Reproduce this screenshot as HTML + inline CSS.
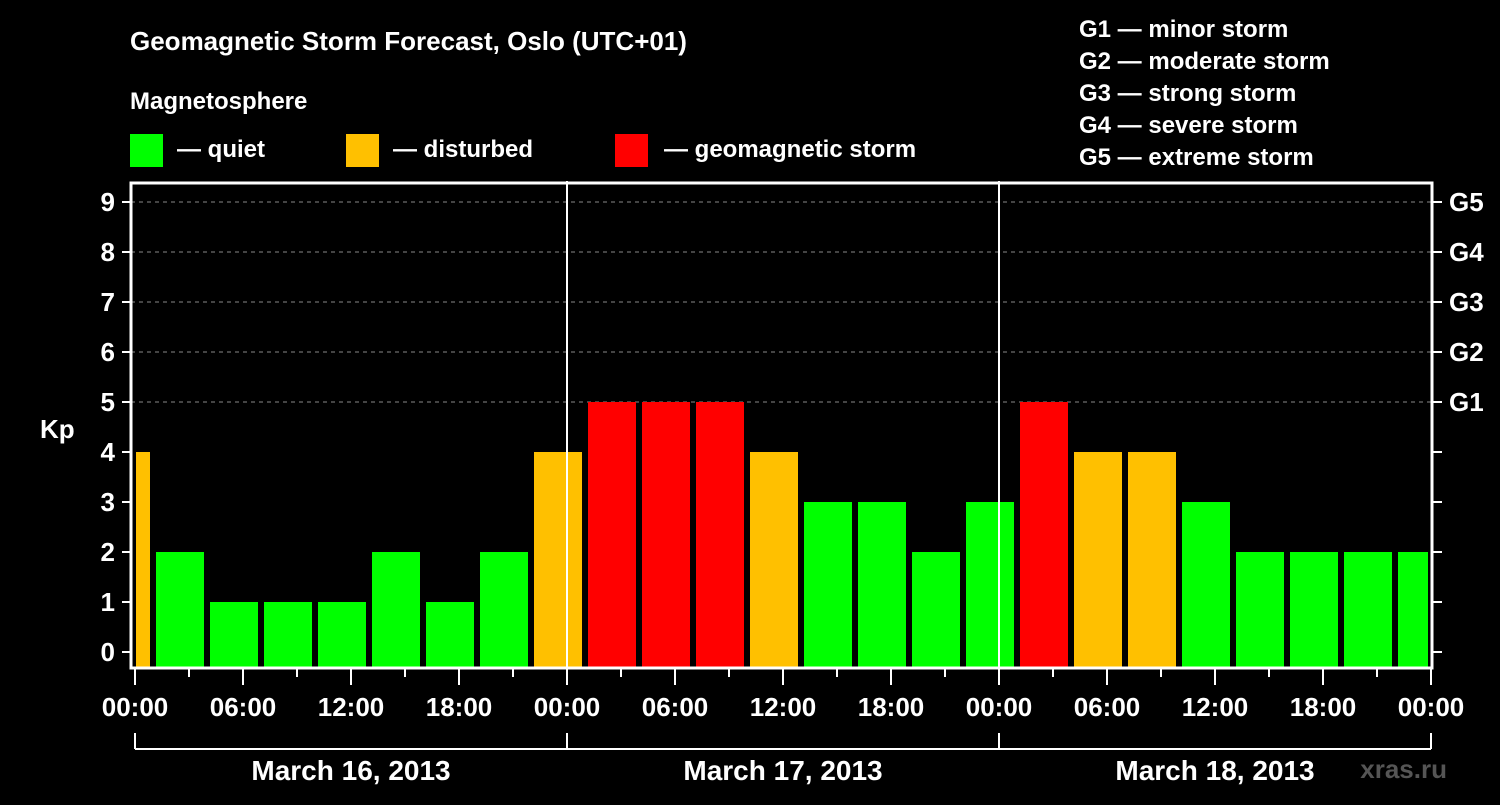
<!DOCTYPE html>
<html><head><meta charset="utf-8"><style>
body{margin:0;background:#000;width:1500px;height:800px;overflow:hidden}
svg text{font-family:"Liberation Sans",sans-serif;font-weight:bold;fill:#fff}
</style></head><body>
<svg id="c" width="1500" height="800" xmlns="http://www.w3.org/2000/svg">
<text x="130" y="50" font-size="26">Geomagnetic Storm Forecast, Oslo (UTC+01)</text>
<text x="130" y="109" font-size="24">Magnetosphere</text>
<rect x="130" y="134" width="33" height="33" fill="#00ff00"/>
<text x="177" y="157" font-size="24">— quiet</text>
<rect x="346" y="134" width="33" height="33" fill="#ffc000"/>
<text x="393" y="157" font-size="24">— disturbed</text>
<rect x="615" y="134" width="33" height="33" fill="#ff0000"/>
<text x="664" y="157" font-size="24">— geomagnetic storm</text>
<g font-size="24">
<text x="1079" y="37">G1 — minor storm</text>
<text x="1079" y="69">G2 — moderate storm</text>
<text x="1079" y="101">G3 — strong storm</text>
<text x="1079" y="133">G4 — severe storm</text>
<text x="1079" y="165">G5 — extreme storm</text>
</g>
<text x="40" y="438" font-size="26">Kp</text>
<text x="1447" y="778" font-size="26" text-anchor="end" style="fill:#555">xras.ru</text>
<g id="grid"></g><g id="bars"></g><g id="axes"></g>
</svg>
<script>
const kpValues=[4,2,1,1,1,2,1,2,4, 5,5,5,4,3,3,2,3, 5,4,4,3,2,2,2,2];
const barStartHour=-2;
const yTicks=[0,1,2,3,4,5,6,7,8,9];
const gLabels=["G1","G2","G3","G4","G5"];
const gLevels=[5,6,7,8,9];
const xTickLabels=["00:00","06:00","12:00","18:00","00:00","06:00","12:00","18:00","00:00","06:00","12:00","18:00","00:00"];
const dayLabels=["March 16, 2013","March 17, 2013","March 18, 2013"];
const X0=135,HR=18,L=131,R=1432,T=183,B=668;
const x=h=>X0+h*HR, y=v=>652-50*v;
const NS="http://www.w3.org/2000/svg";
function mk(t,a,p){const e=document.createElementNS(NS,t);for(const k in a)e.setAttribute(k,a[k]);p.appendChild(e);return e;}
const grid=document.getElementById('grid'),bars=document.getElementById('bars'),axes=document.getElementById('axes');
gLevels.forEach((v,i)=>{
const ln=mk('line',{x1:L,x2:R,y1:y(v),y2:y(v),stroke:'#888','stroke-dasharray':'4,4'},grid);


const t=mk('text',{x:1449,y:y(v)+9,'font-size':26},axes);t.textContent=gLabels[i];


});
kpValues.forEach((v,i)=>{
const h0=barStartHour+i*3;
let x1=x(h0)+3,x2=x(h0+3)-3;
x1=Math.max(x1,X0+1);x2=Math.min(x2,R-4);
const col=v>=5?'#ff0000':v>=4?'#ffc000':'#00ff00';
const r=mk('rect',{x:x1,y:y(v),width:x2-x1,height:B-y(v),fill:col},bars);


});
[1,2].forEach(d=>{const ln=mk('line',{x1:x(d*24),x2:x(d*24),y1:181,y2:B,stroke:'#fff','stroke-width':2},axes);

});
const f=mk('rect',{x:L,y:T,width:R-L,height:B-T,fill:'none',stroke:'#fff','stroke-width':3},axes);


yTicks.forEach(v=>{
mk('line',{x1:122,x2:L,y1:y(v),y2:y(v),stroke:'#fff','stroke-width':2},axes);
mk('line',{x1:R,x2:1442,y1:y(v),y2:y(v),stroke:'#fff','stroke-width':2},axes);
const t=mk('text',{x:115,y:y(v)+9,'font-size':26,'text-anchor':'end'},axes);t.textContent=v;


});
for(let h=0;h<=72;h+=3){mk('line',{x1:x(h),x2:x(h),y1:B,y2:h%6?677:685,stroke:'#fff','stroke-width':2},axes);}
xTickLabels.forEach((s,i)=>{const t=mk('text',{x:x(i*6),y:716,'font-size':26,'text-anchor':'middle'},axes);t.textContent=s;

});
mk('line',{x1:x(0),x2:x(72),y1:749,y2:749,stroke:'#fff','stroke-width':2},axes);
for(let d=0;d<=3;d++)mk('line',{x1:x(d*24),x2:x(d*24),y1:733,y2:749,stroke:'#fff','stroke-width':2},axes);
dayLabels.forEach((s,i)=>{const t=mk('text',{x:x(i*24+12),y:780,'font-size':28,'text-anchor':'middle'},axes);t.textContent=s;

});
</script>
</body></html>
